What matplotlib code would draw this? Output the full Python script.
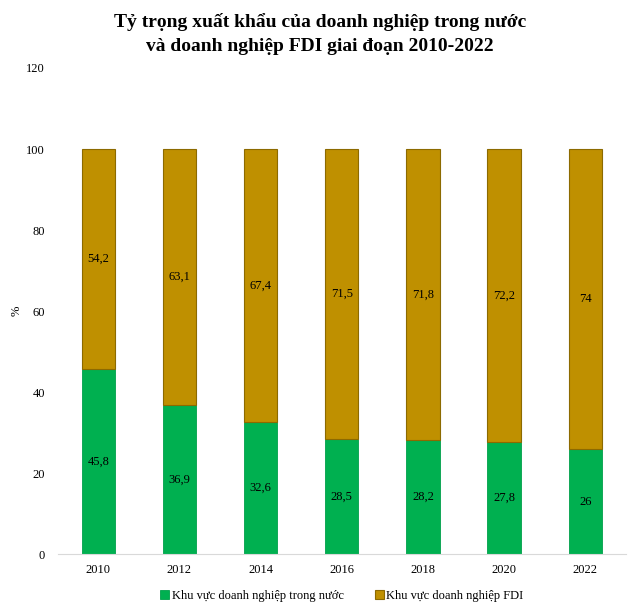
import matplotlib.pyplot as plt
import numpy as np

plt.rcParams['font.family'] = ['Liberation Serif', 'DejaVu Serif']

years = ['2010', '2012', '2014', '2016', '2018', '2020', '2022']
domestic = [45.8, 36.9, 32.6, 28.5, 28.2, 27.8, 26]
fdi = [54.2, 63.1, 67.4, 71.5, 71.8, 72.2, 74]
domestic_labels = ['45,8', '36,9', '32,6', '28,5', '28,2', '27,8', '26']
fdi_labels = ['54,2', '63,1', '67,4', '71,5', '71,8', '72,2', '74']

fig = plt.figure(figsize=(6.4, 6.07), dpi=100)
ax = fig.add_axes([0.09, 0.087, 0.888, 0.801])

x = np.arange(len(years))
w = 0.41
ax.bar(x, domestic, w, color='#00B050', edgecolor='#00A04A', linewidth=0.6,
       label='Khu vực doanh nghiệp trong nước')
ax.bar(x, fdi, w, bottom=domestic, color='#BF9000', edgecolor='#8C6A00', linewidth=0.8,
       label='Khu vực doanh nghiệp FDI')

for i in range(len(years)):
    ax.text(x[i], domestic[i] / 2, domestic_labels[i], ha='center', va='center', fontsize=9)
    ax.text(x[i], domestic[i] + fdi[i] / 2, fdi_labels[i], ha='center', va='center', fontsize=9)

ax.set_xlim(-0.5, len(years) - 0.5)
ax.set_ylim(0, 120)
ax.set_yticks(range(0, 121, 20))
ax.set_xticks(x)
ax.set_xticklabels(years)
ax.tick_params(axis='both', length=0, labelsize=9)
ax.tick_params(axis='y', pad=9)
ax.tick_params(axis='x', pad=7)
for s in ['top', 'right', 'left']:
    ax.spines[s].set_visible(False)
ax.spines['bottom'].set_color('#D9D9D9')
ax.set_ylabel('%', fontsize=9)
ax.yaxis.set_label_coords(-0.062, 0.5)

fig.suptitle('Tỷ trọng xuất khẩu của doanh nghiệp trong nước\nvà doanh nghiệp FDI giai đoạn 2010-2022',
             fontsize=14, fontweight='bold', y=0.978, linespacing=1.5)

ax.legend(loc='center', bbox_to_anchor=(0.5, -0.085), ncol=2, frameon=False,
          fontsize=9, handlelength=0.7, handleheight=0.7, handletextpad=0.2, columnspacing=2.5)

fig.savefig('out.png', dpi=100)
